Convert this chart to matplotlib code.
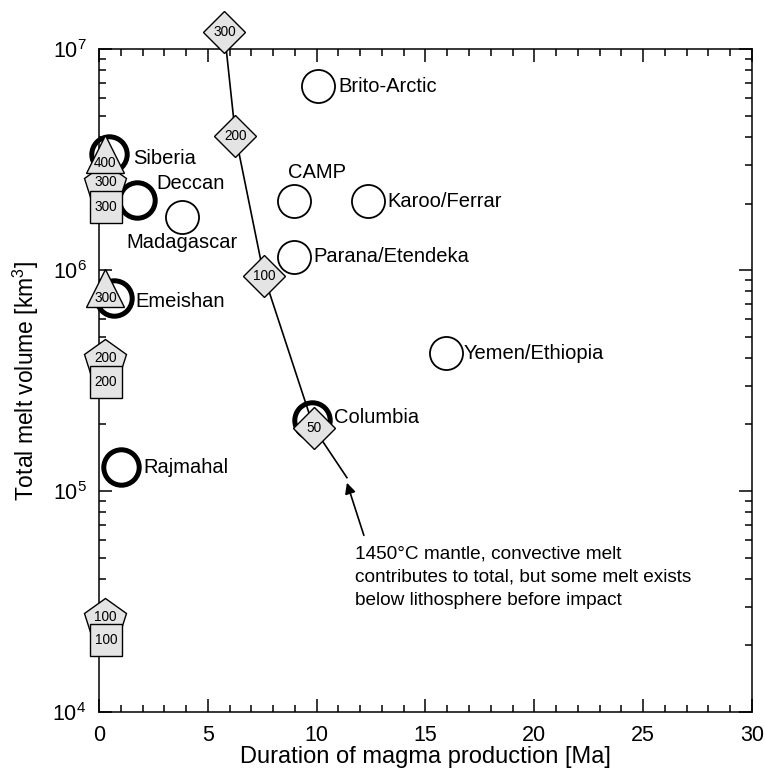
import numpy as np
import matplotlib
matplotlib.use("Agg")
import matplotlib.pyplot as plt
from matplotlib.ticker import MultipleLocator, LogLocator, NullFormatter

plt.rcParams['font.family'] = ['Liberation Sans', 'DejaVu Sans']
plt.rcParams['mathtext.fontset'] = 'custom'
plt.rcParams['mathtext.rm'] = 'Liberation Sans'
plt.rcParams['mathtext.it'] = 'Liberation Sans:italic'
plt.rcParams['mathtext.default'] = 'regular'

# LIPs plotted as thin open circles
open_names = ["Brito-Arctic", "CAMP", "Karoo/Ferrar", "Madagascar", "Parana/Etendeka", "Yemen/Ethiopia"]
open_dur = [10.06, 8.94, 12.36, 3.81, 8.94, 15.94]
open_vol = [6.8e6, 2.05e6, 2.05e6, 1.74e6, 1.15e6, 4.2e5]

# LIPs plotted as heavy circles
bold_names = ["Siberia", "Deccan", "Emeishan", "Rajmahal", "Columbia"]
bold_dur = [0.48, 1.75, 0.67, 1.01, 9.8]
bold_vol = [3.35e6, 2.07e6, 7.5e5, 1.28e5, 2.1e5]

# model curve (1450 C mantle), diamonds labelled with impact size
curve_dur = [5.76, 6.27, 7.58, 9.88, 11.39]
curve_vol = [1.2e7, 4.06e6, 9.4e5, 1.92e5, 1.15e5]
diam_lab = ["300", "200", "100", "50"]

# symbols along the vertical axis
tri_dur = [0.3, 0.3]
tri_vol = [3.36e6, 8.3e5]
tri_lab = ["400", "300"]
pent_dur = [0.3, 0.3, 0.3]
pent_vol = [2.43e6, 3.87e5, 2.61e4]
pent_lab = ["300", "200", "100"]
sq_dur = [0.32, 0.32, 0.32]
sq_vol = [1.93e6, 3.11e5, 2.12e4]
sq_lab = ["300", "200", "100"]

note = "1450\u00b0C mantle, convective melt\ncontributes to total, but some melt exists\nbelow lithosphere before impact"

# label offsets (points) for names
open_off = [(14.5, 0, 'left'), (17, 20.9, 'center'), (14, 0, 'left'),
            (0, -18.7, 'center'), (14, 0, 'left'), (12.5, 0, 'left')]
bold_off = [(17, -3, 'left'), (13.7, 12.2, 'left'), (15.5, -3, 'left'),
            (16.5, 0, 'left'), (15.8, 2, 'left')]

grey = '#e4e4e4'

fig = plt.figure(figsize=(7.66, 7.71), dpi=100)
ax = fig.add_axes([0.1292, 0.0765, 0.8525, 0.8599])
ax.set_yscale('log')
ax.set_xlim(0, 30)
ax.set_ylim(1e4, 1e7)

ax.plot(open_dur, open_vol, 'o', ms=23.8, mfc='white', mec='k', mew=1.3, zorder=3, ls='none')
ax.plot(bold_dur, bold_vol, 'o', ms=25.5, mfc='none', mec='k', mew=3.6, zorder=3, ls='none', clip_on=False)

for n, x, y, (dx, dy, ha) in zip(open_names, open_dur, open_vol, open_off):
    ax.annotate(n, (x, y), xytext=(dx, dy), textcoords='offset points', ha=ha, va='center', fontsize=14.5, zorder=8)
for n, x, y, (dx, dy, ha) in zip(bold_names, bold_dur, bold_vol, bold_off):
    ax.annotate(n, (x, y), xytext=(dx, dy), textcoords='offset points', ha=ha, va='center', fontsize=14.5, zorder=8)

ax.plot(curve_dur, curve_vol, '-', color='k', lw=1.2, zorder=2, clip_on=False)
ax.plot(curve_dur[:4], curve_vol[:4], 'D', ms=20.9, mfc=grey, mec='k', mew=1.0, zorder=5, ls='none', clip_on=False)
for t, x, y in zip(diam_lab, curve_dur, curve_vol):
    ax.annotate(t, (x, y), ha='center', va='center', fontsize=9.8, zorder=9, annotation_clip=False)

ax.plot(pent_dur, pent_vol, 'p', ms=32, mfc=grey, mec='k', mew=1.0, zorder=5, ls='none', clip_on=False)
ax.plot(sq_dur, sq_vol, 's', ms=23, mfc=grey, mec='k', mew=1.0, zorder=6, ls='none', clip_on=False)
ax.plot(tri_dur, tri_vol, '^', ms=28, mfc=grey, mec='k', mew=1.0, zorder=7, ls='none', clip_on=False)
for t, x, y in zip(pent_lab, pent_dur, pent_vol):
    ax.annotate(t, (x, y), xytext=(0, 2), textcoords='offset points', ha='center', va='center', fontsize=9.8, zorder=9)
for t, x, y in zip(sq_lab, sq_dur, sq_vol):
    ax.annotate(t, (x, y), ha='center', va='center', fontsize=9.8, zorder=9)
for t, x, y in zip(tri_lab, tri_dur, tri_vol):
    ax.annotate(t, (x, y), xytext=(0, -7), textcoords='offset points', ha='center', va='center', fontsize=9.8, zorder=9)

ax.annotate("", xy=(11.39, 1.09e5), xytext=(12.17, 6.3e4),
            arrowprops=dict(arrowstyle='-|>', color='k', lw=1.2, mutation_scale=16, shrinkA=0, shrinkB=0))
ax.text(11.76, 5.64e4, note, ha='left', va='top', fontsize=13.7, linespacing=1.45)

ax.set_xlabel("Duration of magma production [Ma]", fontsize=17, labelpad=0)
ax.set_ylabel("Total melt volume [km$^{3}$]", fontsize=16.5, labelpad=8)

ax.xaxis.set_major_locator(MultipleLocator(5))
ax.xaxis.set_minor_locator(MultipleLocator(1))
ax.yaxis.set_major_locator(LogLocator(base=10, numticks=10))
ax.yaxis.set_minor_locator(LogLocator(base=10, subs=np.arange(2, 10), numticks=10))
ax.yaxis.set_minor_formatter(NullFormatter())
ax.tick_params(which='both', direction='in', top=True, right=True, width=1.1, labelsize=15.5)
ax.tick_params(which='major', length=9.5, pad=9)
ax.tick_params(which='minor', length=5)
for s in ax.spines.values():
    s.set_linewidth(1.1)

fig.savefig("out.png", dpi=100)
